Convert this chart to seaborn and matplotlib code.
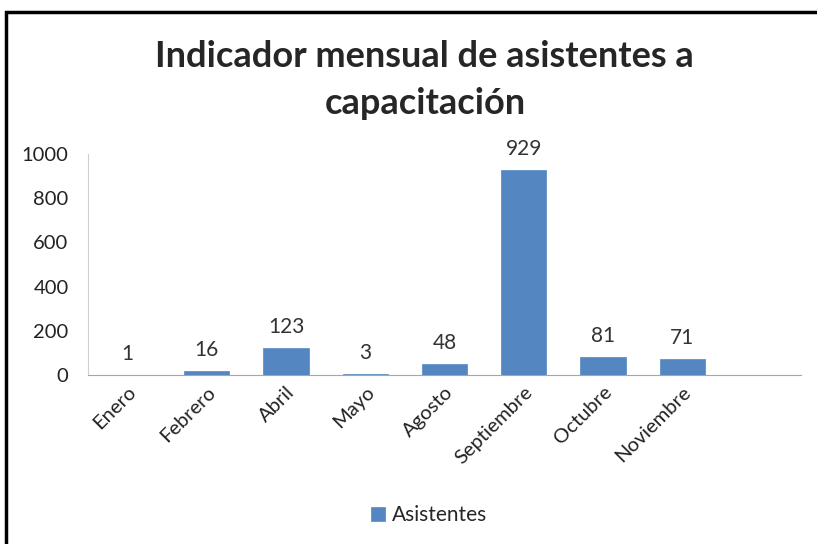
import matplotlib
matplotlib.use("Agg")
import matplotlib.pyplot as plt
import seaborn as sns
import pandas as pd
from matplotlib.patches import Rectangle

meses = ["Enero", "Febrero", "Abril", "Mayo", "Agosto", "Septiembre", "Octubre", "Noviembre"]
asistentes = [1, 16, 123, 3, 48, 929, 81, 71]
yticks = [0, 200, 400, 600, 800, 1000]

df = pd.DataFrame({"Mes": meses, "Asistentes": asistentes})

sns.set_style("white")
plt.rcParams["font.family"] = ["Lato", "DejaVu Sans"]

fig = plt.figure(figsize=(8.17, 5.44), dpi=100)
ax = fig.add_axes([0.1077, 0.3107, 0.8727, 0.4062])

azul = "#5486C2"
sns.barplot(data=df, x="Mes", y="Asistentes", color=azul, width=0.57,
            saturation=1, ax=ax, label="Asistentes",
            edgecolor=azul, linewidth=0.5)
ax.set_xlim(-0.5, 8.5)
ax.set_ylim(0, 1000)
ax.set_yticks(yticks)
ax.set_xlabel("")
ax.set_ylabel("")
ax.tick_params(axis="y", length=0, labelsize=14.5, labelcolor="#222222", pad=14)
ax.tick_params(axis="x", length=0, labelsize=14.5, labelcolor="#222222", pad=6)
for lbl in ax.get_xticklabels():
    lbl.set_rotation(45)
    lbl.set_ha("right")
    lbl.set_rotation_mode("anchor")

for s in ["top", "right"]:
    ax.spines[s].set_visible(False)
ax.spines["left"].set_color("#d0d0d0")
ax.spines["bottom"].set_color("#a6a6a6")

ax.bar_label(ax.containers[0], padding=8, fontsize=15, color="#333333")

fig.text(0.52, 0.897, "Indicador mensual de asistentes a", ha="center", va="center",
         fontsize=26, fontweight="bold")
fig.text(0.52, 0.81, "capacitación", ha="center", va="center",
         fontsize=26, fontweight="bold")

leg = ax.legend(loc="center", bbox_to_anchor=(0.525, 0.053), bbox_transform=fig.transFigure,
                frameon=False, fontsize=15, handlelength=0.7, handleheight=0.7,
                handletextpad=0.3)

fig.patches.append(Rectangle((6 / 817, -0.1), 1.2, 1 - 12 / 544 + 0.1,
                             transform=fig.transFigure, fill=False,
                             edgecolor="black", linewidth=2.5))

fig.savefig("out.png", dpi=100)
